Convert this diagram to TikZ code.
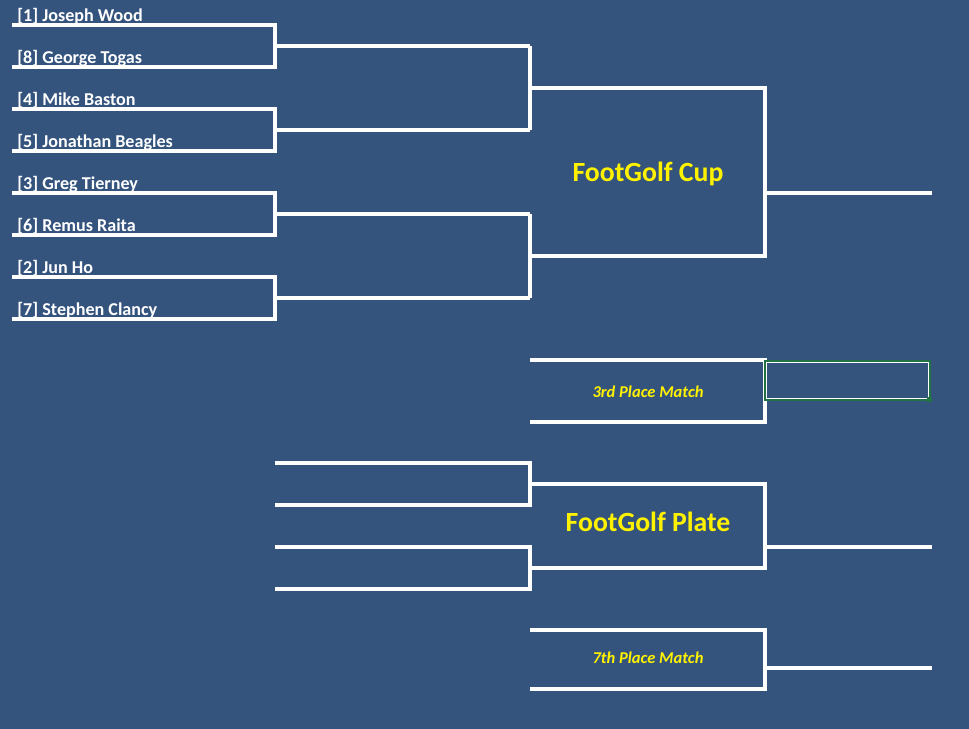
\documentclass[tikz,border=0pt]{standalone}
\usepackage{fontspec}
\setmainfont{Carlito}
\definecolor{bgblue}{HTML}{34547E}
\definecolor{cellgreen}{HTML}{217346}
\tikzset{
  bracket/.style={draw=white, line width=2pt},
  player/.style={anchor=base west, text=white, font=\bfseries\fontsize{10.3}{12}\selectfont, inner sep=0pt},
  title/.style={text=yellow, font=\bfseries\fontsize{15.8}{18}\selectfont},
  match/.style={text=yellow, font=\bfseries\itshape\fontsize{9.4}{11}\selectfont}
}
\begin{document}
\begin{tikzpicture}[x=0.02cm, y=-0.02cm]
  \fill[bgblue] (0,0) rectangle (969,729);
  \useasboundingbox (0,0) rectangle (969,729);

  % players
  \node[player] at (17,22)  (p1) {[1] Joseph Wood};
  \node[player] at (17,64)  (p8) {[8] George Togas};
  \node[player] at (17,106) (p4) {[4] Mike Baston};
  \node[player] at (17,148) (p5) {[5] Jonathan Beagles};
  \node[player] at (17,190) (p3) {[3] Greg Tierney};
  \node[player] at (17,232) (p6) {[6] Remus Raita};
  \node[player] at (17,274) (p2) {[2] Jun Ho};
  \node[player] at (17,316) (p7) {[7] Stephen Clancy};

  % first round
  \coordinate (s1) at (12,25);   \coordinate (s8) at (12,67);
  \coordinate (s4) at (12,109);  \coordinate (s5) at (12,151);
  \coordinate (s3) at (12,193);  \coordinate (s6) at (12,235);
  \coordinate (s2) at (12,277);  \coordinate (s7) at (12,319);
  \coordinate (qf1) at (530,46);  \coordinate (qf2) at (530,130);
  \coordinate (qf3) at (530,214); \coordinate (qf4) at (530,298);

  \draw[bracket] (s1) -- (275,25) -- (275,67) -- (s8);
  \draw[bracket] (s4) -- (275,109) -- (275,151) -- (s5);
  \draw[bracket] (s3) -- (275,193) -- (275,235) -- (s6);
  \draw[bracket] (s2) -- (275,277) -- (275,319) -- (s7);
  \draw[bracket] (275,46) -- (qf1);
  \draw[bracket] (275,130) -- (qf2);
  \draw[bracket] (275,214) -- (qf3);
  \draw[bracket] (275,298) -- (qf4);

  % cup
  \coordinate (sf1) at (765,88);  \coordinate (sf2) at (765,256);
  \coordinate (cup) at (932,193);
  \draw[bracket] (qf1) -- (530,130);
  \draw[bracket] (qf3) -- (530,298);
  \draw[bracket] (530,88) -- (sf1) -- (sf2) -- (530,256);
  \draw[bracket] (765,193) -- (cup);
  \node[title] at (648,174) (cuptitle) {FootGolf Cup};

  % 3rd place
  \coordinate (tp1) at (530,360); \coordinate (tp2) at (530,422);
  \draw[bracket] (tp1) -- (765,360) -- (765,422) -- (tp2);
  \node[match] at (648,392) (third) {3rd Place Match};
  \draw[cellgreen, line width=1.3pt] (765,361) rectangle (930,400);
  \draw[white, line width=0.35pt] (766.5,362.5) rectangle (928.5,398.5);
  \fill[cellgreen] (927,397) rectangle (932,402);

  % plate
  \coordinate (pl1) at (275,463); \coordinate (pl2) at (275,505);
  \coordinate (pl3) at (275,547); \coordinate (pl4) at (275,589);
  \coordinate (plate) at (932,547);
  \draw[bracket] (pl1) -- (530,463) -- (530,505) -- (pl2);
  \draw[bracket] (pl3) -- (530,547) -- (530,589) -- (pl4);
  \draw[bracket] (530,484) -- (765,484) -- (765,568) -- (530,568);
  \draw[bracket] (765,547) -- (plate);
  \node[title] at (648,522) (platetitle) {FootGolf Plate};

  % 7th place
  \coordinate (sv1) at (530,630); \coordinate (sv2) at (530,689);
  \coordinate (seventh) at (932,668);
  \draw[bracket] (sv1) -- (765,630) -- (765,689) -- (sv2);
  \draw[bracket] (765,668) -- (seventh);
  \node[match] at (648,658) (seventhtitle) {7th Place Match};
\end{tikzpicture}
\end{document}
